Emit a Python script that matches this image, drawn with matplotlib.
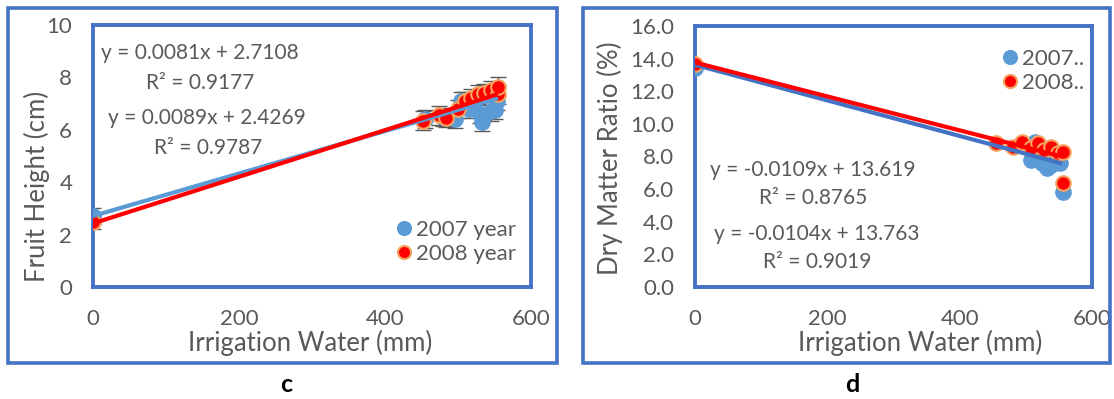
import matplotlib.pyplot as plt
from matplotlib.patches import Rectangle
import numpy as np

plt.rcParams['font.family'] = ['Lato', 'DejaVu Sans']

# panel c: fruit height
water_07c = [0, 455, 480, 496, 504, 515, 522, 530, 533, 545, 550, 553]
height_07 = [2.7, 6.4, 6.5, 6.4, 7.1, 6.8, 6.9, 6.6, 6.3, 6.7, 6.75, 7.1]
water_08c = [0, 452, 474, 484, 500, 509, 518, 527, 536, 545, 555, 555]
height_08 = [2.5, 6.35, 6.55, 6.45, 6.8, 7.1, 7.2, 7.35, 7.4, 7.5, 7.35, 7.65]
err_c = [0.3, 0.35, 0.35, 0.35, 0.35, 0.35, 0.35, 0.35, 0.35, 0.35, 0.35, 0.35]
fit_c = {'2007': (0.0081, 2.7108, 0.9177), '2008': (0.0089, 2.4269, 0.9787)}

# panel d: dry matter ratio
water_07d = [0, 508, 514, 520, 525, 532, 538, 545, 551, 556]
dm_07 = [13.4, 7.8, 8.9, 8.0, 7.6, 7.3, 7.5, 7.8, 7.6, 5.85]
water_08d = [0, 455, 481, 494, 508, 519, 528, 538, 548, 556, 556]
dm_08 = [13.7, 8.85, 8.6, 8.9, 8.5, 8.85, 8.4, 8.6, 8.2, 8.3, 6.4]
fit_d = {'2007': (-0.0109, 13.619, 0.8765), '2008': (-0.0104, 13.763, 0.9019)}

blue = '#5B9BD5'
red = '#FF0000'
edge_red = '#F4A460'
frame = '#4472C4'
grey = '#595959'

W, H = 1114, 399
fig = plt.figure(figsize=(W / 100, H / 100), dpi=100)


def px_axes(x0, y0, x1, y1):
    return fig.add_axes([x0 / W, 1 - y1 / H, (x1 - x0) / W, (y1 - y0) / H])


def fx(x, y):
    return x / W, 1 - y / H


# outer frames
for x0, x1 in [(8, 557), (583, 1110)]:
    fig.patches.append(Rectangle((x0 / W, 1 - 363 / H), (x1 - x0) / W, (363 - 8) / H,
                                 transform=fig.transFigure, fill=False,
                                 edgecolor=frame, linewidth=2.6))


def style(ax):
    for s in ax.spines.values():
        s.set_color(frame)
        s.set_linewidth(2.8)
    ax.tick_params(length=0, labelsize=16, colors=grey)
    ax.tick_params(axis='x', pad=16)
    ax.tick_params(axis='y', pad=15)
    ax.set_xlim(0, 600)
    ax.set_xticks([0, 200, 400, 600])


def eq_text(x, y, s):
    fig.text(*fx(x, y), s, ha='center', va='center', fontsize=15, color=grey)


xs = np.array([0, 552])

# ---- panel c
ax1 = px_axes(93, 25, 531, 287)
style(ax1)
ax1.set_ylim(0, 10)
ax1.set_yticks(range(0, 11, 2))
ax1.errorbar(water_07c, height_07, yerr=err_c, fmt='none', ecolor=grey, capsize=6, lw=1, zorder=2)
ax1.errorbar(water_08c, height_08, yerr=err_c, fmt='none', ecolor=grey, capsize=6, lw=1, zorder=2)
ax1.plot(water_07c, height_07, 'o', ms=11, color=blue, mec=blue, label='2007 year', zorder=3)
ax1.plot(water_08c, height_08, 'o', ms=10.5, color=red, mec=edge_red, mew=1.5, label='2008 year', zorder=4)
m, b, r = fit_c['2007']
ax1.plot(xs, m * xs + b, color=blue, lw=3, zorder=5)
m, b, r = fit_c['2008']
ax1.plot(xs, m * xs + b, color=red, lw=3, zorder=6)
m, b, r = fit_c['2007']
eq_text(200, 53, f'y = {m}x + {b}')
eq_text(200, 83, f'R² = {r}')
m, b, r = fit_c['2008']
eq_text(207, 118, f'y = {m}x + {b}')
eq_text(208, 148, f'R² = {r}')
ax1.legend(loc='center left', bbox_to_anchor=fx(394, 242), bbox_transform=fig.transFigure,
           frameon=False, fontsize=16, labelcolor=grey, borderpad=0, borderaxespad=0,
           handletextpad=0.1, handlelength=0.9, labelspacing=0.2, markerscale=0.9)
ax1.set_ylabel('Fruit Height (cm)', fontsize=18.5, color=grey, va='center')
ax1.yaxis.set_label_coords(*fx(37, 186), transform=fig.transFigure)
ax1.set_xlabel('Irrigation Water (mm)', fontsize=18.5, color=grey, va='center')
ax1.xaxis.set_label_coords(*fx(310, 343), transform=fig.transFigure)

# ---- panel d
ax2 = px_axes(695, 26, 1092, 287)
style(ax2)
ax2.set_ylim(0, 16)
ax2.set_yticks(range(0, 17, 2))
ax2.set_yticklabels([f'{v:.1f}' for v in range(0, 17, 2)])
ax2.plot(water_07d, dm_07, 'o', ms=11, color=blue, mec=blue, label='2007..', zorder=3)
ax2.plot(water_08d, dm_08, 'o', ms=10.5, color=red, mec=edge_red, mew=1.5, label='2008..', zorder=4)
m, b, r = fit_d['2007']
ax2.plot(xs, m * xs + b, color=frame, lw=3, zorder=5)
m, b, r = fit_d['2008']
ax2.plot(xs, m * xs + b, color=red, lw=3, zorder=6)
m, b, r = fit_d['2007']
eq_text(813, 170, f'y = {m}x + {b}')
eq_text(813, 198, f'R² = {r}')
m, b, r = fit_d['2008']
eq_text(817, 234, f'y = {m}x + {b}')
eq_text(817, 262, f'R² = {r}')
ax2.legend(loc='center left', bbox_to_anchor=fx(1000, 71), bbox_transform=fig.transFigure,
           frameon=False, fontsize=16, labelcolor=grey, borderpad=0, borderaxespad=0,
           handletextpad=0.1, handlelength=0.9, labelspacing=0.2, markerscale=0.9)
ax2.set_ylabel('Dry Matter Ratio (%)', fontsize=18.5, color=grey, va='center')
ax2.yaxis.set_label_coords(*fx(610, 158), transform=fig.transFigure)
ax2.set_xlabel('Irrigation Water (mm)', fontsize=18.5, color=grey, va='center')
ax2.xaxis.set_label_coords(*fx(920, 343), transform=fig.transFigure)

fig.text(*fx(286, 385), 'c', ha='center', va='center', fontsize=18, fontweight='bold')
fig.text(*fx(852, 385), 'd', ha='center', va='center', fontsize=18, fontweight='bold')

fig.savefig('out.png', dpi=100)
